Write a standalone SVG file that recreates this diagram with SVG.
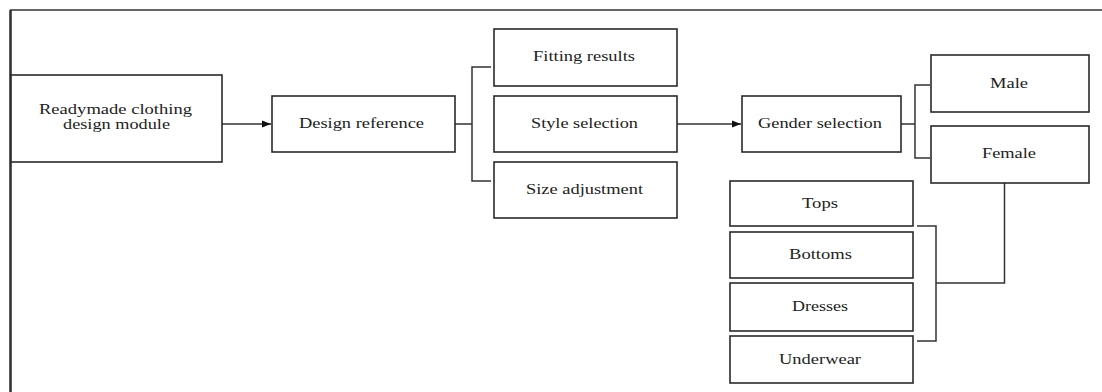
<svg xmlns="http://www.w3.org/2000/svg" width="1102" height="392" viewBox="0 0 1102 392">
<style>
.box{fill:#fff;stroke:#2a2a2a;stroke-width:1.6}
.ln{fill:none;stroke:#333;stroke-width:1.5}
text{font-family:"Liberation Serif","Times New Roman",serif;font-size:15px;fill:#222;text-anchor:middle}
</style>
<defs>
<marker id="ah" markerWidth="10" markerHeight="8" refX="9" refY="4" orient="auto" markerUnits="userSpaceOnUse">
<path d="M0,0.5 L9,4 L0,7.5 Z" fill="#111"/>
</marker>
</defs>
<rect width="1102" height="392" fill="#fff"/>
<g id="frame">
<line x1="10" y1="10" x2="1102" y2="10" stroke="#333" stroke-width="1.6"/>
<line x1="10.5" y1="10" x2="10.5" y2="392" stroke="#333" stroke-width="2.6"/>
</g>
<g id="connectors">
<line class="ln" x1="222" y1="124" x2="271" y2="124" marker-end="url(#ah)"/>
<path class="ln" d="M455,124 H472 M491,67 H472 V181 H491"/>
<line class="ln" x1="677" y1="124" x2="741" y2="124" marker-end="url(#ah)"/>
<path class="ln" d="M901,124 H915 M930,85 H915 V158 H930"/>
<path class="ln" d="M1004.5,183 V283 H936 M917,226 H936 V341 H917"/>
</g>
<g id="n-readymade"><rect class="box" x="11" y="75" width="211" height="87"/>
<text x="115.5" y="114" textLength="153" lengthAdjust="spacingAndGlyphs">Readymade clothing</text>
<text x="116.5" y="129" textLength="107" lengthAdjust="spacingAndGlyphs">design module</text></g>
<g id="n-design"><rect class="box" x="272" y="96" width="183" height="56"/>
<text x="361.5" y="128" textLength="125" lengthAdjust="spacingAndGlyphs">Design reference</text></g>
<g id="n-fitting"><rect class="box" x="494" y="29" width="183" height="57"/>
<text x="584" y="61" textLength="102" lengthAdjust="spacingAndGlyphs">Fitting results</text></g>
<g id="n-style"><rect class="box" x="494" y="96" width="183" height="56"/>
<text x="584.5" y="128" textLength="107" lengthAdjust="spacingAndGlyphs">Style selection</text></g>
<g id="n-size"><rect class="box" x="494" y="162" width="183" height="56"/>
<text x="584.5" y="194" textLength="117" lengthAdjust="spacingAndGlyphs">Size adjustment</text></g>
<g id="n-gender"><rect class="box" x="742" y="96" width="159" height="56"/>
<text x="820" y="128" textLength="124" lengthAdjust="spacingAndGlyphs">Gender selection</text></g>
<g id="n-male"><rect class="box" x="931" y="55" width="158" height="57"/>
<text x="1009" y="88" textLength="38" lengthAdjust="spacingAndGlyphs">Male</text></g>
<g id="n-female"><rect class="box" x="931" y="126" width="158" height="57"/>
<text x="1009" y="158" textLength="54" lengthAdjust="spacingAndGlyphs">Female</text></g>
<g id="n-tops"><rect class="box" x="730" y="181" width="183" height="45"/>
<text x="820" y="208" textLength="36" lengthAdjust="spacingAndGlyphs">Tops</text></g>
<g id="n-bottoms"><rect class="box" x="730" y="232" width="183" height="46"/>
<text x="820.5" y="259" textLength="63" lengthAdjust="spacingAndGlyphs">Bottoms</text></g>
<g id="n-dresses"><rect class="box" x="730" y="283" width="183" height="48"/>
<text x="820" y="311" textLength="56" lengthAdjust="spacingAndGlyphs">Dresses</text></g>
<g id="n-underwear"><rect class="box" x="730" y="336" width="183" height="47"/>
<text x="820" y="364" textLength="82" lengthAdjust="spacingAndGlyphs">Underwear</text></g>
</svg>
